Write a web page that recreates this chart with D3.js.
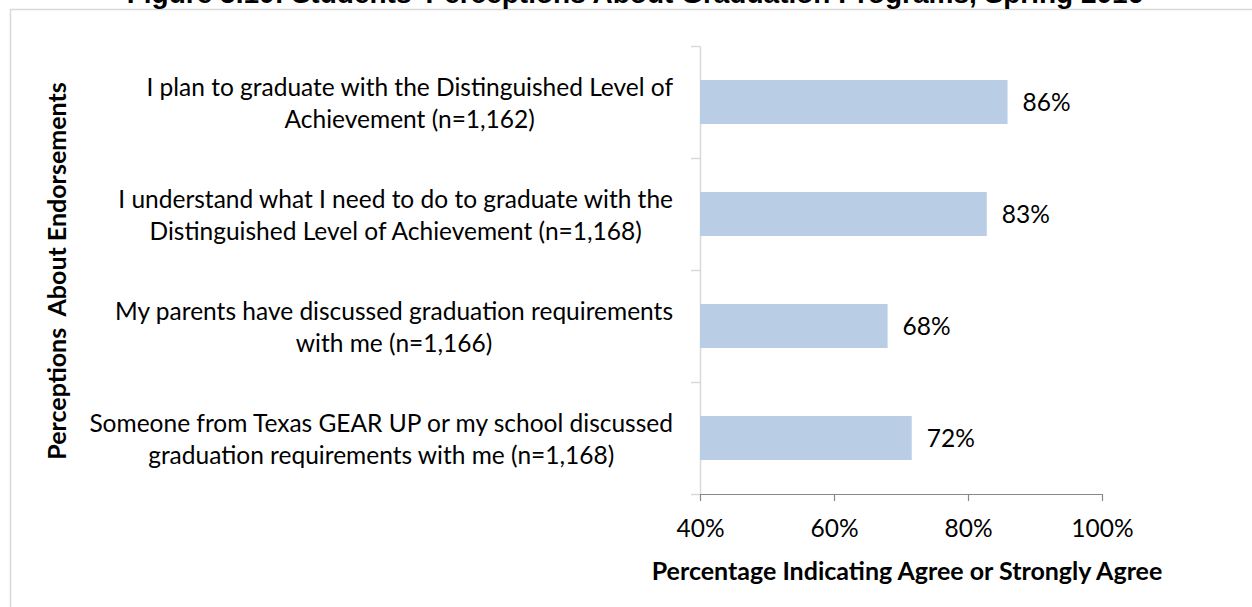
<!DOCTYPE html>
<html>
<head>
<meta charset="utf-8">
<script src="https://cdn.jsdelivr.net/npm/d3@7"></script>
<style>
  html, body { margin: 0; padding: 0; background: #fff; overflow: hidden; }
  svg { display: block; }
</style>
</head>
<body>
<script>
// Category labels (two lines each, as wrapped in the original)
const categories = [
    ["I plan to graduate with the Distinguished Level of", "Achievement (n=1,162)"],
    ["I understand what I need to do to graduate with the", "Distinguished Level of Achievement (n=1,168)"],
    ["My parents have discussed graduation requirements", "with me (n=1,166)"],
    ["Someone from Texas GEAR UP or my school discussed", "graduation requirements with me (n=1,168)"]
];
// Percent agree or strongly agree
const values = [85.9, 82.8, 68.0, 71.6];
// x axis ticks
const xTicks = [40, 60, 80, 100];

const chartTitle = "Figure 5.10: Students\u2019 Perceptions About Graduation Programs, Spring 2016";
const xTitle = "Percentage Indicating Agree or Strongly Agree";
const yTitle = "Perceptions\u00a0\u00a0About Endorsements";

const width = 1252;
const height = 607;

const plot = {left: 700, right: 1102, top: 46, bottom: 494};

const font = "Lato, 'Open Sans', sans-serif";
const fontSize = 24.5;

const data = categories.map((lines, i) => ({key: i, lines, value: values[i]}));

// Scales
const x = d3.scaleLinear([40, 100], [plot.left, plot.right]);
const y = d3.scaleBand()
    .domain(data.map(d => d.key))
    .range([plot.top, plot.bottom])
    .paddingInner(0.607)
    .paddingOuter(0.3035);
// category boundaries for the y axis ticks
const yEdge = d3.scaleLinear([0, categories.length], [plot.top, plot.bottom]);

const svg = d3.select("body").append("svg")
    .attr("width", width)
    .attr("height", height)
    .attr("viewBox", [0, 0, width, height]);

// chart frame (runs off the right and bottom of the picture)
svg.append("rect")
    .attr("x", 10.5)
    .attr("y", 9.5)
    .attr("width", 1400)
    .attr("height", 800)
    .attr("fill", "none")
    .attr("stroke", "#d9d9d9")
    .attr("stroke-width", 1.5);

// title, clipped at the top
svg.append("text")
    .attr("x", 635)
    .attr("y", 3)
    .attr("text-anchor", "middle")
    .style("font", "bold 28px 'Liberation Sans', Arial, sans-serif")
    .text(chartTitle);

// y axis
svg.append("g")
    .attr("transform", `translate(${plot.left},0)`)
    .call(d3.axisLeft(yEdge)
        .tickValues(d3.range(categories.length + 1))
        .tickFormat("")
        .tickSizeInner(9)
        .tickSizeOuter(0))
    .call(g => g.selectAll("line, path").attr("stroke", "#d9d9d9").attr("stroke-width", 1.5));

// bars
svg.append("g")
    .selectAll("rect")
    .data(data)
    .join("rect")
    .attr("x", x(40))
    .attr("y", d => y(d.key))
    .attr("width", d => x(d.value) - x(40))
    .attr("height", y.bandwidth())
    .attr("fill", "#b9cde5");

// x axis
svg.append("g")
    .attr("transform", `translate(0,${plot.bottom})`)
    .call(d3.axisBottom(x)
        .tickValues(xTicks)
        .tickFormat(d => d + "%")
        .tickSizeInner(7)
        .tickSizeOuter(0)
        .tickPadding(19))
    .call(g => g.selectAll("line, path").attr("stroke", "#888").attr("stroke-width", 1.2))
    .call(g => g.selectAll("text")
        .attr("fill", "#000")
        .style("font-family", font)
        .style("font-size", fontSize + "px"));

// value labels
svg.append("g")
    .selectAll("text")
    .data(data)
    .join("text")
    .attr("x", d => x(d.value) + 15)
    .attr("y", d => y(d.key) + y.bandwidth() / 2)
    .attr("dy", "0.35em")
    .style("font-family", font)
    .style("font-size", fontSize + "px")
    .text(d => d3.format(".0f")(d.value) + "%");

// category labels: each block centred on its own width, right edge at 673
const labelRight = 673;
const lineGap = 31.5;
const label = svg.append("g")
    .style("font-family", font)
    .style("font-size", fontSize + "px")
    .selectAll("g")
    .data(data)
    .join("g");

label.each(function(d) {
    const g = d3.select(this);
    const cy = y(d.key) + y.bandwidth() / 2;
    const texts = g.selectAll("text")
        .data(d.lines)
        .join("text")
        .attr("text-anchor", "middle")
        .attr("y", (_, i) => cy - 6 + i * lineGap)
        .text(t => t);
    const maxW = d3.max(texts.nodes(), n => n.getComputedTextLength());
    texts.attr("x", labelRight - maxW / 2);
});

// axis titles
svg.append("text")
    .attr("x", 907)
    .attr("y", 580)
    .attr("text-anchor", "middle")
    .style("font", `bold 25px ${font}`)
    .text(xTitle);

svg.append("text")
    .attr("transform", `translate(66,${(plot.top + plot.bottom) / 2 + 1}) rotate(-90)`)
    .attr("text-anchor", "middle")
    .style("font", `bold 25px ${font}`)
    .text(yTitle);
</script>
</body>
</html>
